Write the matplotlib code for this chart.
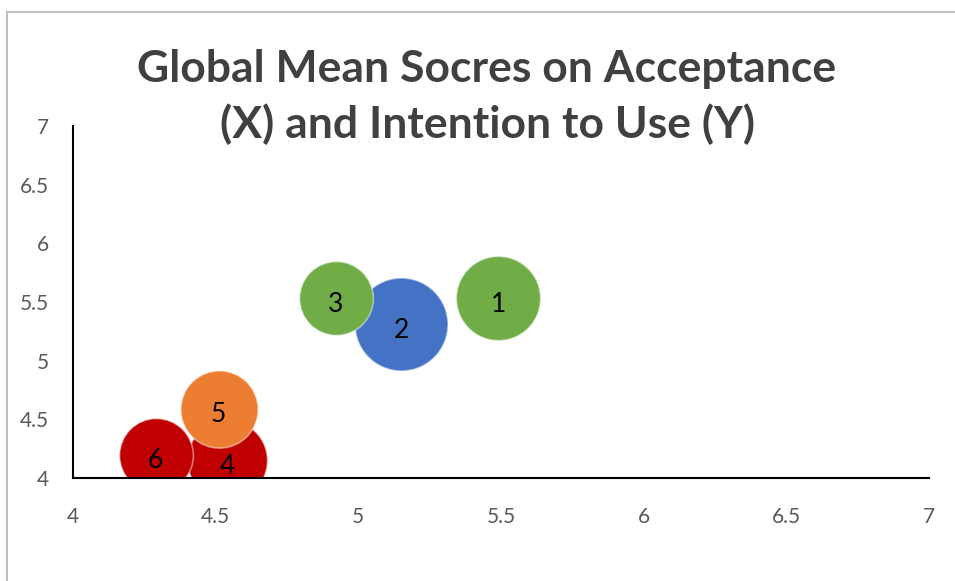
#!/usr/bin/env python3
# Bubble chart: global mean scores on acceptance (X) and intention to use (Y)

import matplotlib.pyplot as plt
from matplotlib.patches import Rectangle

# mean scores per group
labels = ['1', '2', '3', '4', '5', '6']
acceptance = [5.49, 5.15, 4.92, 4.54, 4.51, 4.29]
intention = [5.53, 5.31, 5.53, 4.15, 4.59, 4.20]
bubble_size = [0.82, 1.00, 0.63, 0.74, 0.69, 0.63]
colori = ['#70AD47', '#4472C4', '#70AD47', '#C00000', '#ED7D31', '#C00000']
ordine = [0, 1, 2, 3, 5, 4]  # ordine di disegno (il 5 sopra il 4)

ticks = [4, 4.5, 5, 5.5, 6, 6.5, 7]
tick_labels = ['4', '4.5', '5', '5.5', '6', '6.5', '7']

plt.rcParams['font.family'] = ['Lato', 'DejaVu Sans']

fig = plt.figure(figsize=(9.55, 5.81), dpi=100, facecolor='white')
ax = fig.add_axes([73/955, 1-478/581, (929-73)/955, (478-126)/581])

# cornice grigia del grafico
fig.patches.append(Rectangle((7/955, -0.1), 1.2, 1-12/581+0.1, transform=fig.transFigure,
                             fill=False, edgecolor='#BFBFBF', linewidth=1.5))

diam_max = 93 * 0.72  # diametro massimo in punti
for i in ordine:
    s = bubble_size[i] * diam_max**2
    ax.scatter(acceptance[i], intention[i], s=s, color=colori[i],
               edgecolors=(1, 1, 1, 0.45), linewidths=1.2, zorder=2)
    ax.text(acceptance[i], intention[i] - 0.05, labels[i], ha='center', va='center',
            fontsize=19, color='black', zorder=3)

ax.set_xlim(4, 7)
ax.set_ylim(4, 7)
ax.set_xticks(ticks)
ax.set_xticklabels(tick_labels)
ax.set_yticks(ticks)
ax.set_yticklabels(tick_labels)
ax.tick_params(length=0, labelsize=15, labelcolor='#595959')
ax.tick_params(axis='x', pad=21)
ax.tick_params(axis='y', pad=17)
for lato in ['top', 'right']:
    ax.spines[lato].set_visible(False)
for lato in ['left', 'bottom']:
    ax.spines[lato].set_color('black')
    ax.spines[lato].set_linewidth(1.5)
ax.set_facecolor('none')

fig.text(487/955, 1-97/581, 'Global Mean Socres on Acceptance\n(X) and Intention to Use (Y)',
         ha='center', va='center', fontsize=32, fontweight='bold', color='#404040',
         linespacing=1.4)

plt.savefig('out.png', dpi=100)
